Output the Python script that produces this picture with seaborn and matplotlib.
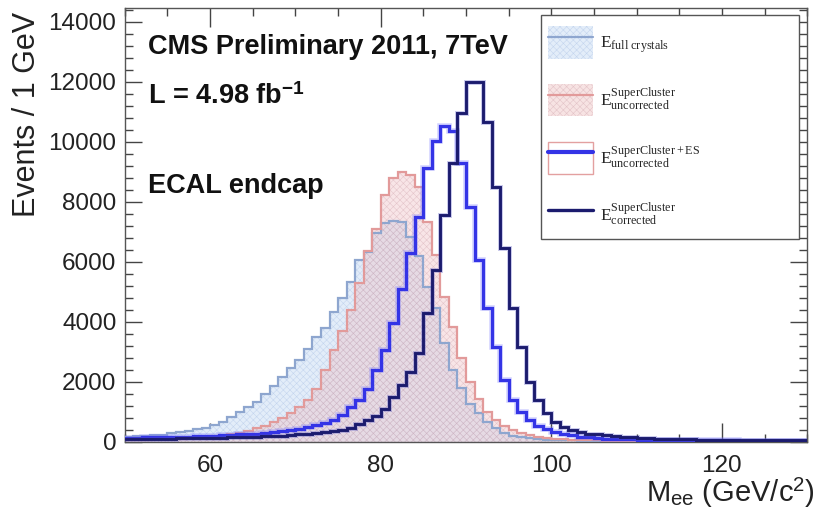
import numpy as np
import pandas as pd
import matplotlib
matplotlib.use('Agg')
import matplotlib.pyplot as plt
import seaborn as sns
from matplotlib.patches import Patch, Rectangle
from matplotlib.lines import Line2D
from matplotlib.ticker import MultipleLocator

# ---------------- data (1 GeV bins, 50..130 GeV) ----------------
bin_edges = list(range(50, 131))

full_crystals = [180, 200, 210, 220, 240, 290, 320, 360, 420, 480,
                 570, 680, 830, 1000, 1150, 1340, 1600, 1880, 2170, 2450,
                 2720, 3110, 3500, 3800, 4330, 4800, 5330, 6060, 6330, 6950,
                 7280, 7360, 7340, 6830, 6200, 5170, 4450, 3280, 2390, 1800,
                 1280, 950, 670, 450, 290, 210, 160, 120, 95, 80,
                 70, 60, 50, 45, 40, 36, 33, 30, 28, 26,
                 24, 22, 20, 19, 18, 17, 16, 15, 14, 13,
                 12, 12, 11, 11, 10, 10, 10, 9, 9, 9]

sc_uncorr = [70, 75, 80, 85, 90, 100, 110, 120, 140, 160,
             190, 220, 260, 310, 370, 450, 540, 650, 800, 970,
             1170, 1400, 1780, 2390, 3050, 3700, 4400, 5300, 6350, 7100,
             8220, 8780, 9000, 8890, 8500, 7330, 6220, 4830, 3830, 2800,
             2000, 1420, 1000, 740, 530, 390, 290, 220, 170, 135,
             110, 95, 80, 70, 60, 52, 46, 41, 37, 33,
             30, 28, 26, 24, 22, 20, 19, 18, 17, 16,
             15, 14, 13, 13, 12, 12, 11, 11, 10, 10]

sces_uncorr = [130, 140, 150, 155, 160, 170, 175, 180, 190, 200,
               210, 220, 235, 250, 265, 280, 300, 320, 350, 390,
               430, 490, 560, 640, 720, 890, 1170, 1390, 1780, 2390,
               3060, 3950, 5110, 6300, 7500, 9110, 10030, 10520, 10370, 9280,
               7830, 6060, 4460, 3170, 2060, 1390, 1000, 720, 530, 420,
               330, 270, 220, 180, 150, 130, 115, 100, 90, 85,
               80, 76, 72, 68, 65, 62, 60, 58, 56, 54,
               52, 50, 48, 47, 46, 45, 44, 43, 42, 41]

sc_corr = [100, 100, 105, 110, 110, 115, 120, 125, 130, 135,
           140, 145, 150, 160, 170, 180, 190, 200, 215, 230,
           250, 270, 300, 330, 360, 400, 480, 600, 720, 850,
           1110, 1500, 1890, 2330, 2950, 4280, 5720, 7560, 9280, 10970,
           12000, 12000, 10670, 8500, 6460, 4450, 3170, 2000, 1390, 950,
           670, 500, 400, 330, 280, 250, 220, 200, 180, 150,
           130, 120, 110, 100, 95, 90, 85, 80, 75, 70,
           68, 66, 64, 62, 60, 58, 56, 54, 52, 50]

legend_labels = [r'$\mathrm{E}_{\mathrm{full\ crystals}}$',
                 r'$\mathrm{E}^{\mathrm{SuperCluster}}_{\mathrm{uncorrected}}$',
                 r'$\mathrm{E}^{\mathrm{SuperCluster+ES}}_{\mathrm{uncorrected}}$',
                 r'$\mathrm{E}^{\mathrm{SuperCluster}}_{\mathrm{corrected}}$']

# ---------------- style ----------------
sns.set_theme(style='ticks')
plt.rcParams['font.family'] = ['Liberation Sans', 'DejaVu Sans']
plt.rcParams['mathtext.fontset'] = 'custom'
plt.rcParams['mathtext.rm'] = 'Liberation Serif'
plt.rcParams['mathtext.it'] = 'Liberation Serif:italic'
plt.rcParams['mathtext.sf'] = 'Liberation Sans'
plt.rcParams['mathtext.bf'] = 'Liberation Sans:bold'
plt.rcParams['hatch.linewidth'] = 0.4

fig = plt.figure(figsize=(8.27, 5.19), dpi=100)
ax = fig.add_axes([124.8 / 827, 77 / 519, (807.2 - 124.8) / 827, (442 - 8) / 519])

centers = np.array(bin_edges[:-1]) + 0.5
df = pd.DataFrame({'mass': centers,
                   'full': full_crystals,
                   'sc': sc_uncorr,
                   'sces': sces_uncorr,
                   'corr': sc_corr})

col_full_line = '#8ea6cf'
col_full_fill = (0.89, 0.93, 0.975, 1.0)
col_full_hatch = (0.74, 0.81, 0.92, 0.8)
col_sc_line = '#e29a9a'
col_sc_fill = (0.93, 0.74, 0.76, 0.38)
col_sc_hatch = (0.80, 0.62, 0.66, 0.45)
col_sces = '#3434e6'
col_corr = '#1b1b6e'


def filled(col, face, hatchcol, z):
    n0 = len(ax.collections)
    sns.histplot(data=df, x='mass', weights=col, bins=bin_edges, element='step',
                 fill=True, ax=ax, color=face[:3], linewidth=0, legend=False)
    for c in ax.collections[n0:]:
        c.set_facecolor(face)
        c.set_edgecolor(hatchcol)
        c.set_hatch('xxxxx')
        c.set_linewidth(0)
        c.set_zorder(z)


def outline(col, color, lw, z, alpha=1.0):
    n0 = len(ax.lines)
    sns.histplot(data=df, x='mass', weights=col, bins=bin_edges, element='step',
                 fill=False, ax=ax, color=color, linewidth=lw, legend=False)
    for l in ax.lines[n0:]:
        l.set_zorder(z)
        l.set_alpha(alpha)
        l.set_solid_joinstyle('miter')


filled('full', col_full_fill, col_full_hatch, 1)
filled('sc', col_sc_fill, col_sc_hatch, 2)
outline('full', col_full_line, 1.6, 3)
outline('sc', col_sc_line, 1.6, 3)
outline('sces', '#8080ff', 4.0, 4, alpha=0.35)
outline('sces', col_sces, 2.3, 5)
outline('corr', '#5050c0', 3.6, 6, alpha=0.3)
outline('corr', col_corr, 2.1, 7)

ax.set_xlim(50, 130)
ax.set_ylim(0, 14450)
ax.set_xlabel('')
ax.set_ylabel('')
ax.xaxis.set_major_locator(MultipleLocator(20))
ax.xaxis.set_minor_locator(MultipleLocator(5))
ax.yaxis.set_major_locator(MultipleLocator(2000))
ax.yaxis.set_minor_locator(MultipleLocator(400))
ax.tick_params(which='both', direction='in', top=True, right=True,
               colors='#444444', labelcolor='#222222', width=1.0)
ax.tick_params(which='major', length=12, labelsize=17.5, pad=6)
ax.tick_params(which='minor', length=6)
ax.tick_params(axis='x', which='major', length=14, pad=9)
for s in ax.spines.values():
    s.set_color('#555555')
    s.set_linewidth(1.0)

# ---------------- legend ----------------
ax.add_patch(Rectangle((0.61, 0.467), 0.378, 0.517, transform=ax.transAxes,
                       facecolor='white', edgecolor='#555555', linewidth=1.0, zorder=9))
h1 = (Patch(facecolor=col_full_fill, edgecolor=col_full_hatch, hatch='xxxxx', linewidth=0),
      Line2D([], [], color=col_full_line, lw=1.6))
h2 = (Patch(facecolor=(0.97, 0.89, 0.89, 1.0), edgecolor=col_sc_hatch, hatch='xxxxx', linewidth=0),
      Line2D([], [], color=col_sc_line, lw=1.6))
h3 = (Patch(facecolor='white', edgecolor='#e3a0a0', linewidth=1.0),
      Line2D([], [], color=col_sces, lw=3.0))
h4 = Line2D([], [], color=col_corr, lw=2.4)
leg = ax.legend([h1, h2, h3, h4], legend_labels, loc='upper left',
                bbox_to_anchor=(0.612, 0.970), frameon=False, fontsize=12.5,
                handlelength=2.6, handleheight=2.5, labelspacing=1.45,
                handletextpad=0.4, borderaxespad=0.0, borderpad=0.3)
leg.set_zorder(10)

# ---------------- texts ----------------
fig.text(148 / 827, 1 - 47 / 519, 'CMS Preliminary 2011, 7TeV', ha='left', va='center',
         fontsize=19.5, fontweight='bold', color='#111111')
fig.text(148 / 827, 1 - 97 / 519, r'L = 4.98 fb$^{\mathbf{-1}}$', ha='left', va='center',
         fontsize=19.5, fontweight='bold', color='#111111')
fig.text(148 / 827, 1 - 186 / 519, 'ECAL endcap', ha='left', va='center',
         fontsize=19.5, fontweight='bold', color='#111111')
fig.text(27 / 827, 1 - 12 / 519, 'Events / 1 GeV', rotation=90, ha='center', va='top',
         fontsize=22, color='#222222')
fig.text(815 / 827, 1 - 493 / 519, r'M$_{\mathsf{ee}}$ (GeV/c$^{\mathsf{2}}$)', ha='right',
         va='center', fontsize=21, color='#222222')

fig.savefig('out.png', dpi=100)
